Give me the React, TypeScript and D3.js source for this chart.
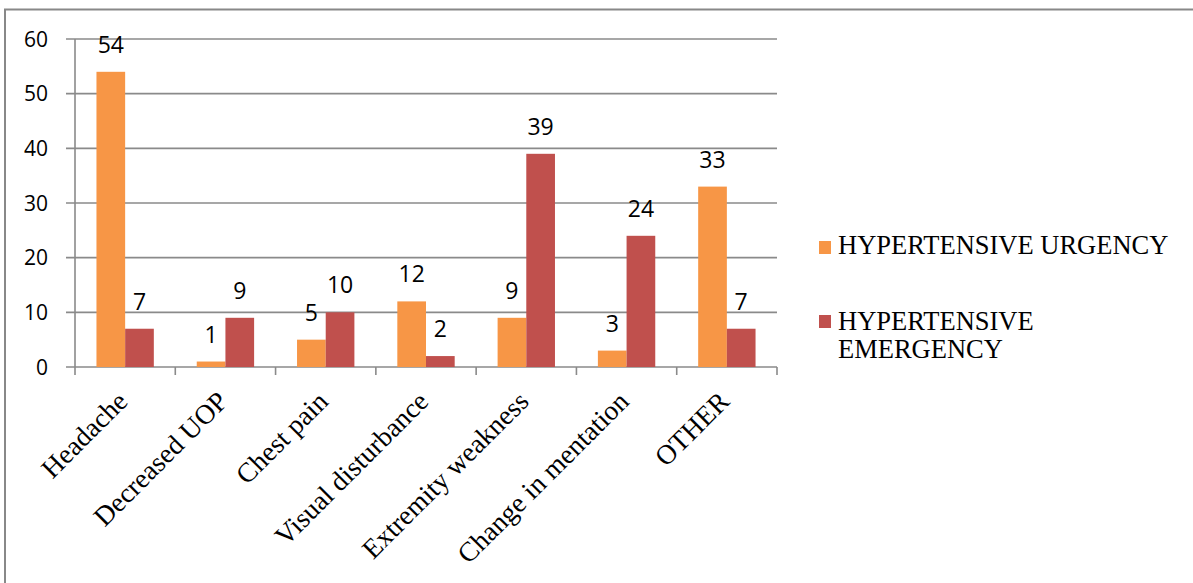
import React from "react";
import * as d3 from "d3";

const categories = [
  "Headache",
  "Decreased UOP",
  "Chest pain",
  "Visual disturbance",
  "Extremity weakness",
  "Change in mentation",
  "OTHER",
];
const urgency = [54, 1, 5, 12, 9, 3, 33];
const emergency = [7, 9, 10, 2, 39, 24, 7];
const yTicks = [0, 10, 20, 30, 40, 50, 60];
const seriesNames = ["HYPERTENSIVE URGENCY", "HYPERTENSIVE EMERGENCY"];
const seriesColors = ["#F79646", "#C0504D"];

const W = 1193;
const H = 583;
const plot = { left: 75, right: 777, top: 39, bottom: 367 };

export default function App() {
  const x = d3
    .scaleBand<string>()
    .domain(categories)
    .range([plot.left, plot.right])
    .paddingInner(0)
    .paddingOuter(0);
  // bar pair fills ~57% of each category slot
  const groupW = x.bandwidth() * 0.572;
  const barW = groupW / 2;
  const groupOff = (x.bandwidth() - groupW) / 2;
  const y = d3.scaleLinear().domain([0, 60]).range([plot.bottom, plot.top]);

  const series = [urgency, emergency];
  const axisFont = "'Open Sans', 'DejaVu Sans', sans-serif";
  const serif = "'Liberation Serif', 'Times New Roman', serif";

  return (
    <svg
      width={W}
      height={H}
      style={{ position: "absolute", left: 0, top: 0, background: "#fff" }}
    >
      {/* chart frame */}
      <rect x={5} y={9.5} width={W + 20} height={H + 20} fill="#fff" stroke="#888" strokeWidth={2} />

      {/* gridlines and y ticks */}
      {yTicks.map((t) => (
        <g key={t}>
          <line
            x1={plot.left - 9}
            x2={plot.right}
            y1={y(t)}
            y2={y(t)}
            stroke="#8a8a8a"
            strokeWidth={1.6}
          />
          <text
            x={48}
            y={y(t)}
            dy="0.36em"
            textAnchor="end"
            fontFamily={axisFont}
            fontSize={21}
            fill="#000"
          >
            {t}
          </text>
        </g>
      ))}

      {/* y axis line */}
      <line x1={plot.left} x2={plot.left} y1={plot.top} y2={plot.bottom} stroke="#8a8a8a" strokeWidth={1.6} />

      {/* category tick marks */}
      {d3.range(categories.length + 1).map((i) => {
        const xx = plot.left + i * x.step();
        return (
          <line key={i} x1={xx} x2={xx} y1={plot.bottom} y2={plot.bottom + 8} stroke="#8a8a8a" strokeWidth={1.6} />
        );
      })}

      {/* bars with value labels */}
      {series.map((vals, si) =>
        vals.map((v, i) => {
          const bx = (x(categories[i]) as number) + groupOff + si * barW;
          return (
            <g key={`${si}-${i}`}>
              <rect
                x={bx}
                y={y(v)}
                width={barW}
                height={y(0) - y(v)}
                fill={seriesColors[si]}
              />
              <text
                x={bx + barW / 2}
                y={y(v) - 19}
                textAnchor="middle"
                fontFamily={axisFont}
                fontSize={23}
                fill="#000"
              >
                {v}
              </text>
            </g>
          );
        })
      )}

      {/* category labels */}
      {categories.map((c) => {
        const cx = (x(c) as number) + x.bandwidth() / 2 + 4;
        const cy = 403;
        return (
          <text
            key={c}
            transform={`translate(${cx},${cy}) rotate(-45)`}
            textAnchor="end"
            fontFamily={serif}
            fontSize={27.5}
            fill="#000"
          >
            {c}
          </text>
        );
      })}

      {/* legend */}
      <g fontFamily={serif} fontSize={26.5} fill="#000">
        <rect x={819} y={241} width={12} height={13} fill={seriesColors[0]} />
        <text x={838} y={254}>{seriesNames[0]}</text>
        <rect x={819} y={315} width={12} height={13} fill={seriesColors[1]} />
        <text x={838} y={330}>HYPERTENSIVE</text>
        <text x={838} y={358}>EMERGENCY</text>
      </g>
    </svg>
  );
}
